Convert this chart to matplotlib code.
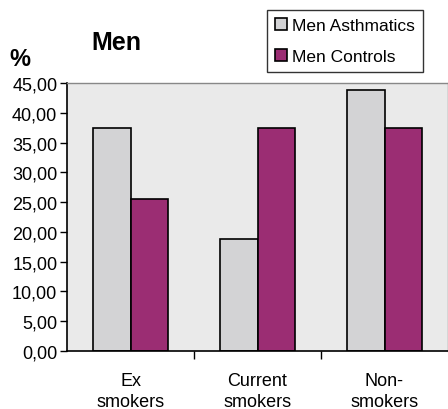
import matplotlib.pyplot as plt
import numpy as np
from matplotlib.ticker import FuncFormatter

plt.rcParams['font.family'] = ['Liberation Sans', 'DejaVu Sans']

categories = ['Ex\nsmokers', 'Current\nsmokers', 'Non-\nsmokers']
asthmatics = [37.5, 18.75, 43.75]
controls = [25.6, 37.5, 37.5]
series_names = ['Men Asthmatics', 'Men Controls']

fig = plt.figure(figsize=(4.48, 4.10), dpi=100)
ax = fig.add_axes([67 / 448, 58 / 410, 381 / 448, 268 / 410])
ax.set_facecolor('#eaeaea')

x = np.arange(len(categories))
w = 0.295
ax.bar(x - w / 2, asthmatics, w, color='#d3d3d5', edgecolor='black', linewidth=1.2,
       label=series_names[0], zorder=2)
ax.bar(x + w / 2, controls, w, color='#9b2d73', edgecolor='black', linewidth=1.2,
       label=series_names[1], zorder=2)

ax.set_xlim(-0.5, 2.5)
ax.set_ylim(0, 45)
ax.set_yticks(np.arange(0, 46, 5))
ax.yaxis.set_major_formatter(FuncFormatter(lambda v, p: f'{v:.2f}'.replace('.', ',')))
ax.tick_params(axis='y', labelsize=13, direction='out', length=5, width=1, pad=2)

# category labels sit in the middle, ticks mark the boundaries
ax.set_xticks([0.5, 1.5])
ax.set_xticklabels([])
ax.set_xticks(x, minor=True)
ax.set_xticklabels(categories, minor=True, fontsize=13, linespacing=1.3)
ax.tick_params(axis='x', which='major', direction='out', length=6, width=1)
ax.tick_params(axis='x', which='minor', length=0, pad=15)

for side in ['left', 'bottom']:
    ax.spines[side].set_color('black')
    ax.spines[side].set_linewidth(1.2)
for side in ['top', 'right']:
    ax.spines[side].set_color('#888888')
    ax.spines[side].set_linewidth(1.0)

fig.text(91 / 448, 1 - 43 / 410, 'Men', fontsize=18, fontweight='bold', va='center')
fig.text(9 / 448, 1 - 60 / 410, '%', fontsize=17, fontweight='bold', va='center')

leg = fig.legend(loc='upper left', bbox_to_anchor=(267 / 448, 1 - 11 / 410),
                 fontsize=12.5, frameon=True, fancybox=False, edgecolor='black',
                 handlelength=0.7, handleheight=0.7, handletextpad=0.3,
                 borderpad=0.45, labelspacing=0.9, borderaxespad=0)
leg.get_frame().set_linewidth(1.0)

fig.savefig('out.png', dpi=100)
